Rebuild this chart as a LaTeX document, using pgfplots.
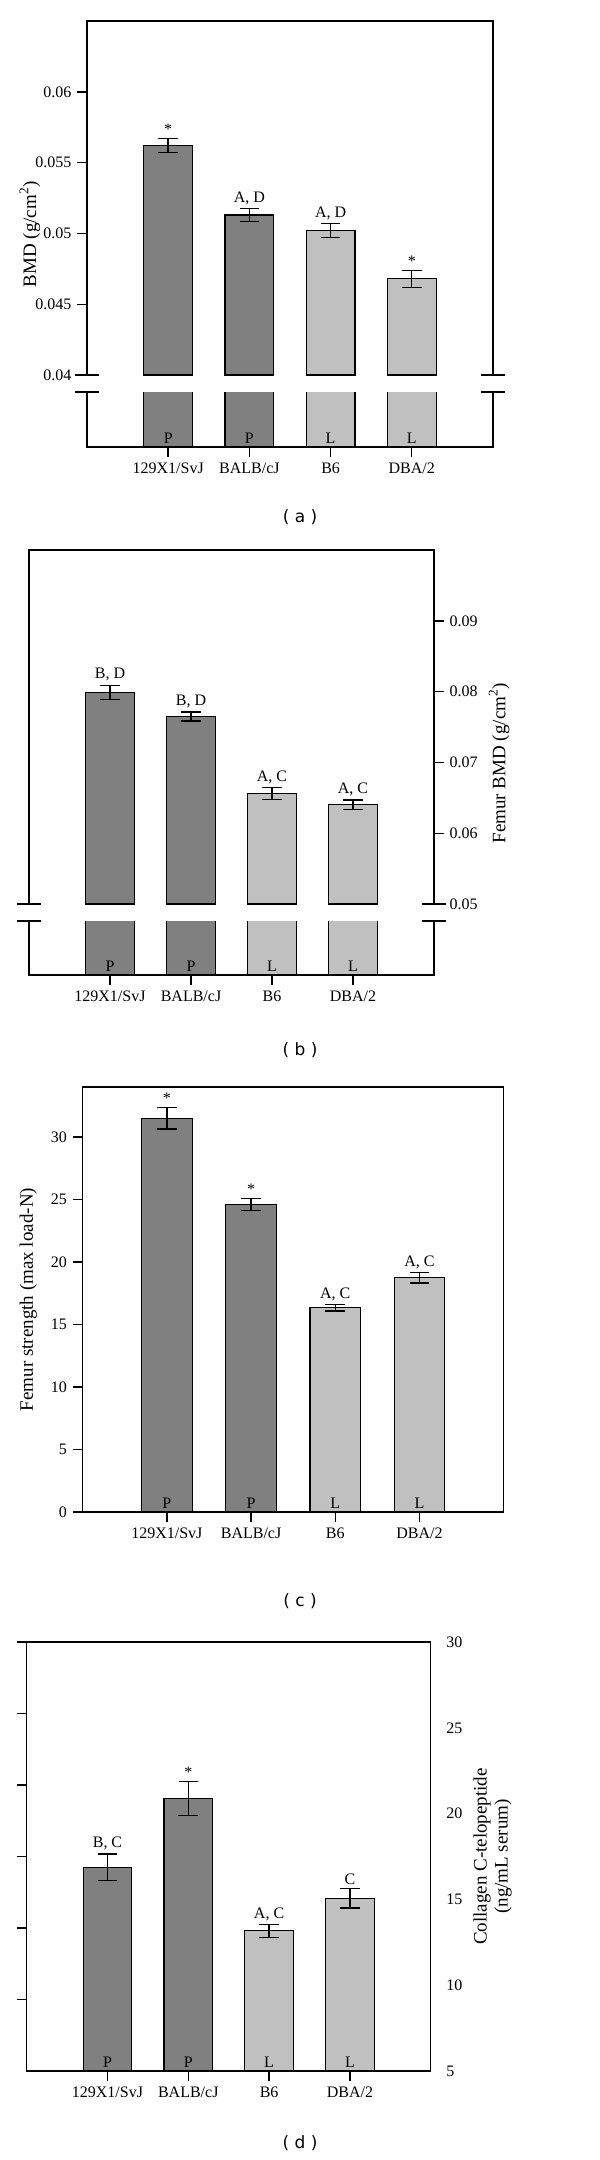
\documentclass[border=0pt]{standalone}
\usepackage{fontspec}
\setmainfont{Liberation Serif}
\newfontfamily\capfont{DejaVu Sans}
\usepackage{pgfplots}
\usepackage{pgfplotstable}
\pgfplotsset{compat=1.18}

\definecolor{darkbar}{RGB}{128,128,128}
\definecolor{lightbar}{RGB}{192,192,192}

% (a) BMD
\pgfplotstableread[col sep=semicolon]{
x;y;e;lab
1;0.0562;0.0005;*
2;0.0513;0.00045;A, D
3;0.0502;0.0005;A, D
4;0.0468;0.0006;*
}\tabA
% (b) femur BMD
\pgfplotstableread[col sep=semicolon]{
x;y;e;lab
1;0.0799;0.001;B, D
2;0.0765;0.00063;B, D
3;0.0656;0.00084;A, C
4;0.0640;0.00069;A, C
}\tabB
% (c) femur strength
\pgfplotstableread[col sep=semicolon]{
x;y;e;lab
1;31.5;0.86;*
2;24.6;0.47;*
3;16.35;0.27;A, C
4;18.75;0.43;A, C
}\tabC
% (d) collagen C-telopeptide
\pgfplotstableread[col sep=semicolon]{
x;y;e;lab
1;16.87;0.77;B, C
2;20.87;0.99;*
3;13.17;0.38;A, C
4;15.07;0.58;C
}\tabD

\pgfplotsset{
  panel/.style={
    scale only axis, anchor=north west,
    xmin=0, xmax=5,
    axis line style={draw=none},
    tick align=outside, major tick length=5pt,
    tick style={black, line width=0.7pt},
    clip mode=individual,
    /pgf/number format/assume math mode=true,
    scaled y ticks=false,
    yticklabel style={/pgf/number format/fixed, /pgf/number format/precision=3},
    label style={font=\fontsize{9.5}{10.5}\selectfont},
    xtick={1,2,3,4}, xticklabels={129X1/SvJ,BALB/cJ,B6,DBA/2},
    xtick pos=left, ytick pos=left,
  },
  bars/.style={ybar, bar width=0.6, bar shift=0pt, draw=black, line width=0.6pt,
    error bars/y dir=both, error bars/y explicit,
    error bars/error bar style={black, line width=0.7pt},
    error bars/error mark options={rotate=90, black, line width=0.7pt, mark size=4.9pt}},
  darkbars/.style={bars, fill=darkbar, restrict x to domain=0.5:2.5},
  lightbars/.style={bars, fill=lightbar, restrict x to domain=2.5:4.5},
  notes/.style={nodes near coords, point meta=explicit symbolic,
    visualization depends on={\thisrow{e} \as \errval},
    every node near coord/.append style={anchor=south, inner sep=1.6pt, text=black,
      shift={(axis direction cs:0,\errval)}}},
  pl/.style={draw=none, mark=none, nodes near coords, point meta=explicit symbolic,
    every node near coord/.append style={anchor=south, inner sep=1.5pt, text=black}},
  frameU/.style={extra description/.code={
    \draw[line width=0.7pt] (0,0)--(0,1)--(1,1)--(1,0);
    \draw[line width=0.7pt] (0,0)++(-6pt,0pt)--++(12pt,0pt);
    \draw[line width=0.7pt] (1,0)++(-6pt,0pt)--++(12pt,0pt);}},
  frameL/.style={extra description/.code={
    \draw[line width=0.7pt] (0,1)--(0,0)--(1,0)--(1,1);
    \draw[line width=0.7pt] (0,1)++(-6pt,0pt)--++(12pt,0pt);
    \draw[line width=0.7pt] (1,1)++(-6pt,0pt)--++(12pt,0pt);}},
  frameB/.style={extra description/.code={
    \draw[line width=0.7pt] (0,0) rectangle (1,1);}},
}

\begin{document}
\fontsize{8}{10}\selectfont
\begin{tikzpicture}
\path[use as bounding box] (0,0) rectangle (300pt,-1080pt);

% ---- (a) ----
\begin{axis}[panel, frameU, at={(43.5pt,-10.5pt)}, width=203pt, height=177pt,
  ymin=0.04, ymax=0.065, ytick={0.04,0.045,0.05,0.055,0.06}, xtick=\empty,
  ylabel={BMD (g/cm\textsuperscript{2})}, ylabel style={at={(ticklabel cs:0.398,-8pt)}}]
\addplot[darkbars, notes] table[x=x, y=y, y error=e, meta=lab] {\tabA};
\addplot[lightbars, notes] table[x=x, y=y, y error=e, meta=lab] {\tabA};
\end{axis}
\begin{axis}[panel, frameL, at={(43.5pt,-196pt)}, width=203pt, height=27.5pt,
  ymin=0, ymax=0.01, ytick=\empty]
\addplot[darkbars] table[x=x, y=y] {\tabA};
\addplot[lightbars] table[x=x, y=y] {\tabA};
\addplot[pl] coordinates {(1,0)[P] (2,0)[P] (3,0)[L] (4,0)[L]};
\end{axis}
\node[font=\capfont\fontsize{8.5}{10}\selectfont] at (150pt,-258.5pt) {( a )};

% ---- (b) ----
\begin{axis}[panel, frameU, at={(14.5pt,-275pt)}, width=202.5pt, height=177pt,
  ymin=0.05, ymax=0.1, ytick={0.05,0.06,0.07,0.08,0.09}, xtick=\empty,
  ytick pos=right, yticklabel pos=right,
  ylabel={Femur BMD (g/cm\textsuperscript{2})}, ylabel style={at={(ticklabel cs:0.398)}}]
\addplot[darkbars, notes] table[x=x, y=y, y error=e, meta=lab] {\tabB};
\addplot[lightbars, notes] table[x=x, y=y, y error=e, meta=lab] {\tabB};
\end{axis}
\begin{axis}[panel, frameL, at={(14.5pt,-460.5pt)}, width=202.5pt, height=27pt,
  ymin=0, ymax=0.01, ytick=\empty]
\addplot[darkbars] table[x=x, y=y] {\tabB};
\addplot[lightbars] table[x=x, y=y] {\tabB};
\addplot[pl] coordinates {(1,0)[P] (2,0)[P] (3,0)[L] (4,0)[L]};
\end{axis}
\node[font=\capfont\fontsize{8.5}{10}\selectfont] at (150pt,-525pt) {( b )};

% ---- (c) ----
\begin{axis}[panel, frameB, at={(41.35pt,-543.5pt)}, width=210.5pt, height=212.5pt,
  ymin=0, ymax=34, ytick={0,5,10,15,20,25,30},
  ylabel={Femur strength (max load-N)}, ylabel style={at={(ticklabel cs:0.5,1.5pt)}}]
\addplot[darkbars, notes] table[x=x, y=y, y error=e, meta=lab] {\tabC};
\addplot[lightbars, notes] table[x=x, y=y, y error=e, meta=lab] {\tabC};
\addplot[pl] coordinates {(1,0)[P] (2,0)[P] (3,0)[L] (4,0)[L]};
\end{axis}
\node[font=\capfont\fontsize{8.5}{10}\selectfont] at (150pt,-800.5pt) {( c )};

% ---- (d) ----
\begin{axis}[panel, at={(13.35pt,-821pt)}, width=202pt, height=214.5pt,
  ymin=0, ymax=6, ytick={1,2,3,4,5,6}, yticklabel=\empty]
\end{axis}
\begin{axis}[panel, frameB, at={(13.35pt,-821pt)}, width=202pt, height=214.5pt,
  ymin=5, ymax=30, ytick={5,10,15,20,25,30}, xtick=\empty, major tick length=0pt,
  ytick pos=right, yticklabel pos=right,
  yticklabel style={xshift=5pt},
  ylabel={Collagen C-telopeptide\\(ng/mL serum)}, ylabel style={align=center}]
\addplot[darkbars, notes] table[x=x, y=y, y error=e, meta=lab] {\tabD};
\addplot[lightbars, notes] table[x=x, y=y, y error=e, meta=lab] {\tabD};
\addplot[pl] coordinates {(1,5)[P] (2,5)[P] (3,5)[L] (4,5)[L]};
\end{axis}
\node[font=\capfont\fontsize{8.5}{10}\selectfont] at (150pt,-1071.5pt) {( d )};
\end{tikzpicture}
\end{document}
